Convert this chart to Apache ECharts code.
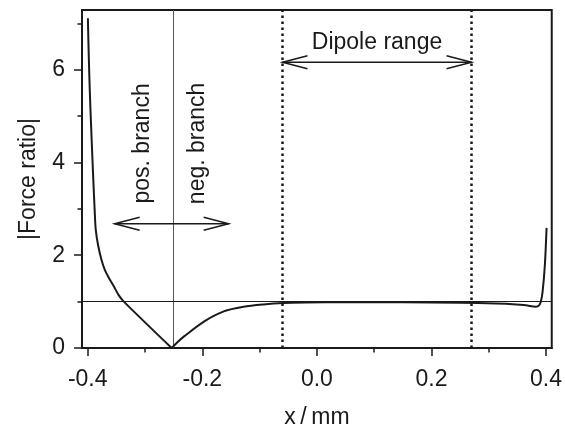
<!DOCTYPE html>
<html>
<head>
<meta charset="utf-8">
<script src="https://cdn.jsdelivr.net/npm/echarts@6/dist/echarts.min.js"></script>
<style>
  html, body { margin: 0; padding: 0; background: #fff; }
  #chart { width: 565px; height: 434px; }
</style>
</head>
<body>
<div id="chart"></div>
<script>
// force ratio curve
const curveX = [-0.3997, -0.3986, -0.3972, -0.3954, -0.3930, -0.3903, -0.3880, -0.3860, -0.3818, -0.3760,
    -0.3700, -0.3625, -0.3550, -0.3460, -0.3370, -0.2535, -0.2430, -0.2318, -0.1972, -0.1626,
    -0.1280, -0.0934, -0.0588, -0.0200, 0.0500, 0.1500, 0.2500, 0.3130, 0.3480, 0.3650,
    0.3824, 0.3880, 0.3910, 0.3940, 0.3980, 0.4010];
const curveY = [7.11, 6.50, 5.86, 5.20, 4.44, 3.64, 3.00, 2.55, 2.21, 1.90,
    1.68, 1.50, 1.34, 1.14, 1.00, 0.00, 0.13, 0.25, 0.57, 0.79,
    0.89, 0.94, 0.97, 0.98, 0.985, 0.985, 0.975, 0.96, 0.94, 0.92,
    0.89, 0.92, 1.00, 1.21, 1.79, 2.59];
const cuspIndex = 15; // the zero crossing at the branch point

// axis ticks
const xMajor = [-0.4, -0.2, 0.0, 0.2, 0.4];
const xMinor = [-0.3, -0.1, 0.1, 0.3];
const yMajor = [0, 2, 4, 6];
const yMinor = [1, 3, 5, 7];

// reference lines
const branchX = -0.2535;
const dipoleX = [-0.06, 0.27];
const unityY = 1;

// double arrows: from, to, height
const arrowFrom = [-0.06, -0.353];
const arrowTo = [0.27, -0.154];
const arrowY = [6.16, 2.68];

// annotation texts
const noteText = ['Dipole range', 'pos. branch', 'neg. branch'];
const noteX = [0.105, -0.3045, -0.2076];
const noteY = [6.58, 4.41, 4.41];
const noteRot = [0, 90, 90];

const FONT = '"Liberation Sans", Arial, sans-serif';
const INK = '#1a1a1a';

var chart = echarts.init(document.getElementById('chart'));

var points = curveX.map((x, i) => [x, curveY[i]]);
var leftBranch = points.slice(0, cuspIndex + 1);
var rightBranch = points.slice(cuspIndex);

function xAxisBase() {
    return {
        type: 'value',
        min: -0.41,
        max: 0.41,
        position: 'bottom',
        splitLine: { show: false }
    };
}

function yAxisBase() {
    return {
        type: 'value',
        min: 0,
        max: 7.286,
        position: 'left',
        splitLine: { show: false }
    };
}

function curveSeries(data) {
    return {
        type: 'line',
        data: data,
        showSymbol: false,
        smooth: 0.3,
        lineStyle: { color: INK, width: 2 },
        z: 5
    };
}

var mainCurve = curveSeries(leftBranch);
mainCurve.markLine = {
    silent: true,
    symbol: 'none',
    label: { show: false },
    data: [
        { xAxis: branchX, lineStyle: { color: '#555', width: 1, type: 'solid' } },
        { xAxis: dipoleX[0], lineStyle: { color: INK, width: 2.5, type: [2.5, 3.5] } },
        { xAxis: dipoleX[1], lineStyle: { color: INK, width: 2.5, type: [2.5, 3.5] } },
        { yAxis: unityY, lineStyle: { color: INK, width: 1, type: 'solid' } }
    ]
};

var option = {
    animation: false,
    grid: {
        left: 82, right: 9, top: 10, bottom: 84,
        show: true,
        borderColor: INK,
        borderWidth: 2
    },
    xAxis: [
        Object.assign(xAxisBase(), {
            name: 'x\u2009/\u2009mm',
            nameLocation: 'middle',
            nameGap: 58,
            nameTextStyle: { fontFamily: FONT, fontSize: 23, color: INK },
            axisLine: { show: true, onZero: false, lineStyle: { color: INK, width: 2 } },
            axisTick: { show: true, customValues: xMajor, length: 8, lineStyle: { color: INK, width: 1.5 } },
            axisLabel: {
                customValues: xMajor,
                margin: 20,
                fontFamily: FONT, fontSize: 23, color: INK,
                formatter: v => v.toFixed(1)
            }
        }),
        Object.assign(xAxisBase(), {
            axisLine: { show: false, onZero: false },
            axisTick: { show: true, customValues: xMinor, length: 4.5, lineStyle: { color: INK, width: 1.5 } },
            axisLabel: { show: false }
        })
    ],
    yAxis: [
        Object.assign(yAxisBase(), {
            name: '|Force ratio|',
            nameLocation: 'middle',
            nameGap: 42,
            nameTextStyle: { fontFamily: FONT, fontSize: 23, color: INK },
            axisLine: { show: true, onZero: false, lineStyle: { color: INK, width: 2 } },
            axisTick: { show: true, customValues: yMajor, length: 8, lineStyle: { color: INK, width: 1.5 } },
            axisLabel: { customValues: yMajor, margin: 17, fontFamily: FONT, fontSize: 23, color: INK }
        }),
        Object.assign(yAxisBase(), {
            axisLine: { show: false, onZero: false },
            axisTick: { show: true, customValues: yMinor, length: 4.5, lineStyle: { color: INK, width: 1.5 } },
            axisLabel: { show: false }
        })
    ],
    series: [
        mainCurve,
        curveSeries(rightBranch),
        {
            // double-headed open arrows
            type: 'custom',
            data: arrowFrom.map((x, i) => [x, arrowTo[i], arrowY[i]]),
            encode: { x: [0, 1], y: 2 },
            renderItem: function (params, api) {
                const a = api.coord([api.value(0), api.value(2)]);
                const b = api.coord([api.value(1), api.value(2)]);
                const L = 25, W = 6.5;
                const st = { stroke: INK, lineWidth: 1.5, fill: null };
                return {
                    type: 'group',
                    children: [
                        { type: 'line', shape: { x1: a[0], y1: a[1], x2: b[0], y2: b[1] }, style: st },
                        { type: 'polyline', shape: { points: [[a[0] + L, a[1] - W], [a[0], a[1]], [a[0] + L, a[1] + W]] }, style: st },
                        { type: 'polyline', shape: { points: [[b[0] - L, b[1] - W], [b[0], b[1]], [b[0] - L, b[1] + W]] }, style: st }
                    ]
                };
            },
            z: 6
        },
        {
            // text notes
            type: 'custom',
            data: noteX.map((x, i) => [x, noteY[i]]),
            renderItem: function (params, api) {
                const p = api.coord([api.value(0), api.value(1)]);
                const i = params.dataIndex;
                return {
                    type: 'text',
                    x: p[0],
                    y: p[1],
                    rotation: noteRot[i] * Math.PI / 180,
                    style: {
                        text: noteText[i],
                        fontFamily: FONT,
                        fontSize: 23,
                        fill: INK,
                        align: 'center',
                        verticalAlign: 'middle'
                    }
                };
            },
            z: 6
        }
    ]
};

chart.setOption(option);
</script>
</body>
</html>
